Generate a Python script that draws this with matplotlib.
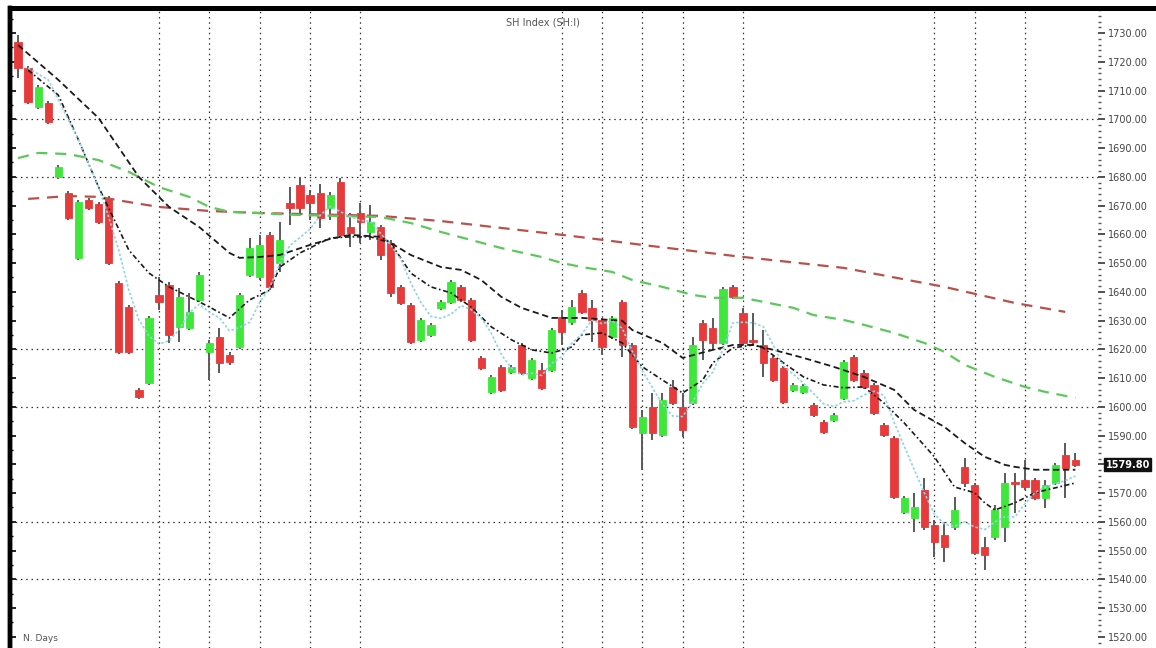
import numpy as np
import matplotlib
matplotlib.use("Agg")
import matplotlib.pyplot as plt
from matplotlib.lines import Line2D
from matplotlib.ticker import MultipleLocator, FuncFormatter

# ---------------- data ----------------
opens = [1726.9, 1717.8, 1704.3, 1705.7, 1679.9, 1674.4, 1651.8, 1671.9, 1670.5, 1672.6,
         1643.1, 1634.7, 1605.9, 1608.3, 1638.9, 1642.4, 1627.8, 1627.4, 1637.2, 1619.1,
         1624.3, 1618.0, 1620.8, 1645.9, 1645.2, 1659.8, 1650.0, 1670.9, 1677.1, 1673.7,
         1674.4, 1669.2, 1678.2, 1662.5, 1667.4, 1660.8, 1662.5, 1657.0, 1641.7, 1635.4,
         1623.3, 1625.0, 1634.4, 1636.5, 1641.7, 1637.2, 1617.0, 1605.2, 1613.9, 1612.1,
         1621.5, 1610.0, 1612.8, 1612.8, 1631.3, 1629.5, 1639.6, 1634.4, 1630.2, 1624.3,
         1636.5, 1621.5, 1590.9, 1600.0, 1590.2, 1606.9, 1600.0, 1601.3, 1629.2, 1627.4,
         1622.2, 1641.7, 1632.6, 1623.3, 1621.5, 1617.0, 1613.5, 1605.9, 1605.2, 1600.7,
         1594.7, 1595.4, 1603.1, 1617.3, 1611.8, 1607.6, 1593.7, 1589.2, 1563.4, 1561.4,
         1571.1, 1558.9, 1555.5, 1558.2, 1579.1, 1572.8, 1551.3, 1554.8, 1558.2, 1573.9,
         1574.6, 1574.6, 1568.3, 1573.5, 1583.3, 1581.5]
highs = [1729.3, 1718.5, 1711.9, 1706.4, 1684.1, 1675.1, 1671.9, 1672.6, 1671.2, 1673.3,
         1643.8, 1635.4, 1606.6, 1631.6, 1645.2, 1643.4, 1641.3, 1639.6, 1646.9, 1623.3,
         1627.4, 1619.1, 1639.6, 1658.7, 1659.8, 1660.8, 1664.3, 1676.4, 1679.6, 1675.4,
         1677.5, 1674.7, 1679.6, 1667.4, 1670.9, 1670.2, 1663.2, 1658.0, 1642.4, 1636.1,
         1630.9, 1629.2, 1637.2, 1644.1, 1642.4, 1637.9, 1617.7, 1611.1, 1614.6, 1614.6,
         1622.2, 1617.0, 1615.3, 1627.4, 1633.7, 1637.2, 1640.6, 1637.2, 1630.9, 1631.6,
         1637.2, 1622.2, 1598.9, 1604.8, 1604.8, 1609.3, 1604.8, 1624.3, 1630.2, 1630.9,
         1641.7, 1642.4, 1634.4, 1632.6, 1626.7, 1617.7, 1614.2, 1608.3, 1608.0, 1601.3,
         1595.4, 1597.9, 1616.3, 1618.0, 1612.8, 1608.3, 1594.4, 1589.9, 1569.0, 1570.1,
         1575.3, 1560.7, 1560.0, 1568.7, 1582.2, 1573.5, 1554.8, 1565.9, 1577.0, 1577.0,
         1581.5, 1575.3, 1574.6, 1580.5, 1587.4, 1584.0]
lows = [1714.4, 1705.3, 1703.6, 1698.4, 1679.2, 1665.0, 1651.1, 1668.5, 1663.6, 1649.3,
        1618.4, 1618.4, 1602.7, 1607.6, 1633.7, 1622.2, 1622.6, 1626.7, 1636.5, 1609.3,
        1611.8, 1614.6, 1620.1, 1645.2, 1644.1, 1640.6, 1646.9, 1663.2, 1666.7, 1665.0,
        1662.2, 1665.0, 1659.1, 1655.6, 1657.0, 1658.0, 1651.1, 1638.2, 1635.4, 1621.9,
        1622.6, 1624.3, 1633.7, 1635.8, 1636.5, 1622.6, 1612.8, 1604.5, 1605.2, 1611.4,
        1611.1, 1609.3, 1605.9, 1612.1, 1621.5, 1628.5, 1632.3, 1622.6, 1618.0, 1623.6,
        1617.3, 1592.3, 1578.1, 1588.5, 1589.5, 1600.7, 1589.5, 1600.7, 1616.3, 1619.8,
        1621.5, 1637.5, 1621.5, 1621.5, 1610.4, 1608.6, 1601.0, 1605.2, 1604.6, 1596.5,
        1590.6, 1594.7, 1602.4, 1608.6, 1606.2, 1597.2, 1589.5, 1568.0, 1562.8, 1556.5,
        1557.2, 1547.8, 1546.1, 1557.2, 1572.1, 1548.5, 1543.3, 1553.7, 1553.0, 1563.1,
        1571.1, 1567.6, 1564.8, 1572.8, 1568.3, 1579.1]
closes = [1717.8, 1706.0, 1711.2, 1699.1, 1683.4, 1665.7, 1671.2, 1669.2, 1664.3, 1650.0,
          1619.1, 1619.1, 1603.4, 1630.9, 1636.5, 1625.0, 1638.2, 1633.0, 1645.9, 1622.2,
          1615.3, 1615.6, 1638.9, 1655.2, 1656.3, 1641.7, 1658.0, 1669.2, 1669.2, 1670.9,
          1665.7, 1673.7, 1659.8, 1660.5, 1664.3, 1664.3, 1652.8, 1639.6, 1636.1, 1622.6,
          1630.2, 1628.5, 1636.5, 1643.4, 1637.2, 1623.3, 1613.5, 1610.4, 1605.9, 1613.9,
          1611.8, 1616.3, 1606.6, 1626.7, 1626.0, 1634.7, 1633.0, 1630.2, 1620.8, 1630.9,
          1621.5, 1593.0, 1596.5, 1590.9, 1602.4, 1601.3, 1592.0, 1621.5, 1623.3, 1622.2,
          1641.0, 1638.2, 1622.2, 1622.6, 1615.3, 1609.3, 1601.7, 1607.6, 1607.3, 1597.2,
          1591.3, 1597.2, 1615.6, 1609.3, 1606.9, 1597.9, 1590.2, 1568.7, 1568.3, 1565.2,
          1558.2, 1553.0, 1551.3, 1564.1, 1573.5, 1549.2, 1548.5, 1564.1, 1573.5, 1573.2,
          1572.1, 1568.3, 1572.8, 1579.8, 1578.7, 1579.8]

ma5_idx = [1, 3, 4, 6, 8, 9, 10, 11, 12, 13] + list(range(14, 106))
ma5_val = [1717.8, 1713.7, 1706.7, 1692.8, 1676.4, 1666.0, 1654.5, 1640.6, 1630.2, 1624.6,
           1621.8, 1623.0, 1626.8, 1632.7, 1635.7, 1632.9, 1630.9, 1626.4, 1627.6, 1629.4,
           1636.3, 1641.5, 1650.0, 1656.1, 1658.9, 1661.8, 1666.6, 1669.7, 1667.9, 1666.1,
           1664.8, 1664.5, 1660.3, 1656.3, 1651.4, 1643.1, 1636.3, 1631.4, 1630.8, 1632.2,
           1635.2, 1633.8, 1630.8, 1625.6, 1618.1, 1613.4, 1611.1, 1611.7, 1610.9, 1615.1,
           1617.5, 1622.1, 1625.4, 1630.1, 1628.9, 1629.9, 1627.3, 1619.3, 1612.5, 1606.6,
           1600.9, 1596.8, 1596.6, 1601.6, 1608.1, 1612.1, 1620.0, 1629.2, 1629.4, 1629.2,
           1627.9, 1621.5, 1614.2, 1611.3, 1608.2, 1604.6, 1601.0, 1600.1, 1601.7, 1602.1,
           1604.1, 1605.4, 1604.0, 1594.6, 1586.4, 1578.1, 1570.1, 1562.7, 1559.2, 1558.4,
           1560.0, 1558.2, 1557.3, 1559.9, 1561.8, 1561.7, 1566.3, 1570.2, 1572.0, 1573.2,
           1574.3, 1575.9]

ma10_idx = [1, 4, 6, 8, 11, 13, 15, 17, 19, 21, 23, 25, 26, 28, 30, 31, 33, 35, 37, 39,
            41, 43, 45, 47, 49, 51, 53, 55, 56, 58, 60, 62, 64, 66, 68, 69, 71, 73, 74, 76,
            78, 80, 82, 84, 86, 88, 91, 93, 95, 96, 97, 99, 101, 103, 105]
ma10_val = [1717.1, 1708.4, 1692.8, 1676.4, 1654.5, 1646.5, 1641.7, 1638.2, 1634.7, 1630.9,
            1637.2, 1640.6, 1648.6, 1653.5, 1657.0, 1658.7, 1659.1, 1659.1, 1657.0, 1646.5,
            1641.7, 1639.6, 1634.7, 1627.8, 1623.3, 1619.8, 1618.7, 1620.8, 1625.0, 1625.7,
            1622.2, 1613.9, 1609.3, 1604.8, 1609.3, 1615.3, 1620.5, 1621.5, 1620.5, 1615.3,
            1610.4, 1607.6, 1606.6, 1606.9, 1601.3, 1594.4, 1582.6, 1572.1, 1570.1, 1566.6,
            1564.1, 1566.6, 1570.1, 1571.8, 1573.5]

ma20_idx = [0, 4, 8, 12, 15, 18, 21, 22, 24, 26, 29, 31, 33, 36, 39, 42, 44, 46, 48, 50,
            53, 56, 60, 61, 64, 66, 69, 71, 73, 75, 78, 81, 84, 87, 89, 92, 94, 96, 98, 99,
            101, 105]
ma20_val = [1725.8, 1713.7, 1700.4, 1679.9, 1669.5, 1662.5, 1653.5, 1651.8, 1652.1, 1652.8,
            1656.3, 1658.4, 1659.8, 1659.1, 1652.8, 1648.6, 1647.6, 1644.1, 1638.2, 1634.4,
            1630.9, 1630.9, 1629.9, 1626.7, 1622.2, 1617.0, 1619.8, 1621.5, 1621.5, 1619.8,
            1617.0, 1613.9, 1610.4, 1605.9, 1598.9, 1593.0, 1587.4, 1582.6, 1579.8, 1579.1,
            1578.1, 1578.1]

ma60_idx = [0, 2, 5, 8, 11, 14, 17, 19, 21, 28, 36, 39, 42, 45, 48, 52, 54, 56, 59, 61,
            64, 67, 69, 72, 74, 77, 79, 82, 84, 87, 90, 92, 94, 97, 100, 102, 105]
ma60_val = [1686.5, 1688.3, 1687.9, 1685.8, 1681.7, 1676.4, 1673.0, 1669.5, 1667.8, 1666.7,
            1666.0, 1663.9, 1660.8, 1658.0, 1655.2, 1652.1, 1650.0, 1648.6, 1646.9, 1644.1,
            1641.7, 1638.9, 1637.9, 1637.9, 1636.5, 1634.4, 1631.9, 1630.2, 1628.5, 1625.7,
            1622.2, 1619.1, 1614.6, 1610.4, 1606.9, 1605.2, 1603.1]

ma120_idx = [1, 5, 8, 11, 14, 19, 24, 36, 42, 48, 55, 62, 71, 82, 92, 99, 104]
ma120_val = [1672.3, 1673.3, 1673.0, 1671.2, 1669.5, 1668.1, 1667.4, 1666.4, 1664.6, 1662.2,
             1659.4, 1656.3, 1652.5, 1648.3, 1641.7, 1636.1, 1633.0]

grid_x_idx = [14, 19, 24, 29, 34, 54, 58, 62, 66, 72, 91, 95, 100]
grid_y_vals = [1700, 1680, 1620, 1600, 1560, 1540]

title_text = "SH Index (SH:I)"
corner_text = "N. Days"

# ---------------- figure ----------------
W, H = 1156, 648
fig = plt.figure(figsize=(W / 100, H / 100), dpi=100)
fig.patch.set_facecolor("white")
ax = fig.add_axes([10 / W, 0.0, (1098 - 10) / W, (648 - 8) / H])
ax.set_facecolor("white")

n = len(closes)
x = np.arange(n)
o = np.array(opens); c = np.array(closes); hi = np.array(highs); lo = np.array(lows)
up = c >= o
RED = "#e8393b"
GREEN = "#3ee83a"
cols = np.where(up, GREEN, RED)

# grid
for gy in grid_y_vals:
    ax.axhline(gy, color="#333333", lw=0.9, ls=(0, (1.2, 3.0)), zorder=1)
for gx in grid_x_idx:
    ax.axvline(gx, color="#333333", lw=0.9, ls=(0, (1.2, 3.0)), zorder=1)

# wicks
ax.vlines(x, lo, hi, color="#5a5a5a", lw=1.4, zorder=2)
# bodies
bottoms = np.minimum(o, c)
heights = np.maximum(np.abs(c - o), 0.7)
ax.bar(x, heights, bottom=bottoms, width=0.72, color=cols, edgecolor=cols,
       linewidth=0.6, zorder=3)

# moving averages
ax.plot(ma120_idx, ma120_val, color="#b9514b", lw=1.6, ls=(0, (5, 3.5)), zorder=4)
ax.plot(ma60_idx, ma60_val, color="#5cc85c", lw=1.6, ls=(0, (5, 3.5)), zorder=4)
ax.plot(ma20_idx, ma20_val, color="#1a1a1a", lw=1.3, ls=(0, (3.5, 2.0)), zorder=5)
ax.plot(ma10_idx, ma10_val, color="#1a1a1a", lw=1.2, ls=(0, (3.0, 1.6, 1.0, 1.6)), zorder=5)
ax.plot(ma5_idx, ma5_val, color="#8fd3e6", lw=1.2, ls=(0, (1.5, 1.2)), zorder=5)

# axes limits (pixel-aligned)
ax.set_xlim(-0.8, 107.25)
ax.set_ylim(1516.1, 1738.7)

# spines
for s in ["right", "bottom"]:
    ax.spines[s].set_visible(False)
ax.spines["left"].set_linewidth(3.2)
ax.spines["top"].set_linewidth(3.6)
ax.spines["left"].set_color("black")
ax.spines["top"].set_color("black")

last = closes[-1]


def fmt(v, pos):
    # the last-price box takes the place of the nearest tick label
    if abs(v - last) < 5:
        return ""
    return f"{v:.2f}"


ax.set_xticks([])
ax.yaxis.tick_right()
ax.yaxis.set_major_locator(MultipleLocator(10))
ax.yaxis.set_minor_locator(MultipleLocator(2))
ax.yaxis.set_major_formatter(FuncFormatter(fmt))
ax.tick_params(axis="y", which="major", direction="out", length=5, width=1.2,
               color="#333333", labelsize=7, labelcolor="#444444", pad=2)
ax.tick_params(axis="y", which="minor", direction="out", length=2, width=1.0,
               color="#555555")

# left inner ticks
sec = ax.secondary_yaxis("left")
sec.yaxis.set_major_locator(MultipleLocator(10))
sec.yaxis.set_minor_locator(MultipleLocator(5))
sec.tick_params(which="major", direction="in", length=4, width=1.2, labelleft=False)
sec.tick_params(which="minor", direction="in", length=2, width=1.0, labelleft=False)
sec.spines["left"].set_linewidth(3.2)

# last-price box
ax.text(1.007, last, f"{last:.2f}", transform=ax.get_yaxis_transform(),
        ha="left", va="center", fontsize=7, color="white", fontweight="bold",
        bbox=dict(boxstyle="square,pad=0.15", facecolor="#111111", edgecolor="#111111"),
        clip_on=False, zorder=20)

# texts
ax.text(0.49, 0.985, title_text, transform=ax.transAxes, ha="center", va="top",
        fontsize=7, color="#555555")
ax.text(0.012, 0.008, corner_text, transform=ax.transAxes, ha="left", va="bottom",
        fontsize=6.5, color="#555555")

# top border extends across figure
fig.add_artist(Line2D([1098 / W, 1.0], [1 - 8 / H, 1 - 8 / H], color="black", lw=3.6,
                      transform=fig.transFigure))

fig.savefig("out.png", dpi=100, facecolor="white")
